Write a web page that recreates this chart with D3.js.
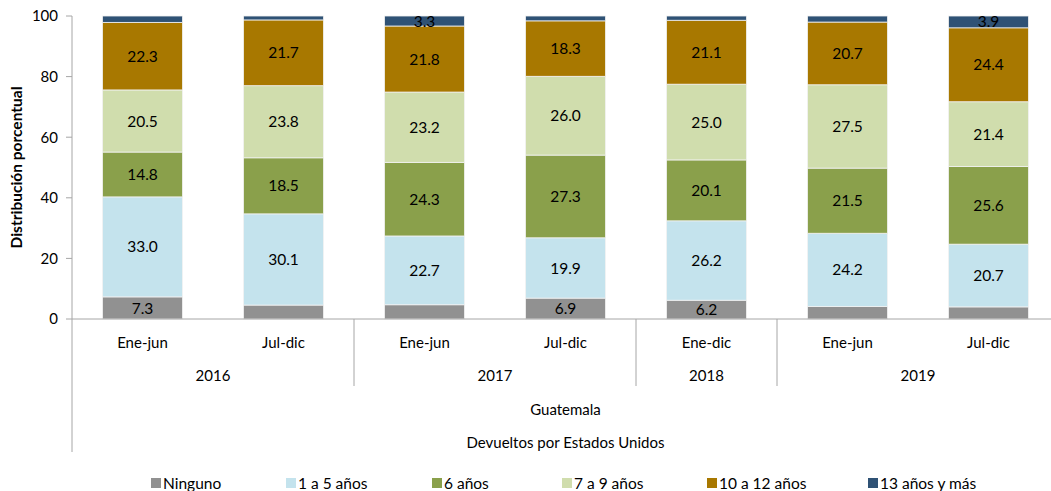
<!DOCTYPE html>
<html>
<head>
<meta charset="utf-8">
<script src="https://cdn.jsdelivr.net/npm/d3@7"></script>
<style>
  body { margin: 0; background: #fff; }
  svg text { font-family: Lato, "Open Sans", sans-serif; fill: #000; }
</style>
</head>
<body>
<div id="chartBox"></div>
<script>
// categories
var periods = ['Ene-jun', 'Jul-dic', 'Ene-jun', 'Jul-dic', 'Ene-dic', 'Ene-jun', 'Jul-dic'];
var years = ['2016', '2016', '2017', '2017', '2018', '2019', '2019'];
var country = 'Guatemala';
var source = 'Devueltos por Estados Unidos';

// series
var seriesNames = ['Ninguno', '1 a 5 años', '6 años', '7 a 9 años', '10 a 12 años', '13 años y más'];
var ninguno   = [7.3, 4.6, 4.7, 6.9, 6.2, 4.1, 4.0];
var anos1a5   = [33.0, 30.1, 22.7, 19.9, 26.2, 24.2, 20.7];
var anos6     = [14.8, 18.5, 24.3, 27.3, 20.1, 21.5, 25.6];
var anos7a9   = [20.5, 23.8, 23.2, 26.0, 25.0, 27.5, 21.4];
var anos10a12 = [22.3, 21.7, 21.8, 18.3, 21.1, 20.7, 24.4];
var anos13    = [2.1, 1.3, 3.3, 1.6, 1.4, 2.0, 3.9];
// labels the original leaves out (series index, bar index)
var hiddenLabels = ['0:1', '0:2', '0:5', '0:6', '5:0', '5:1', '5:3', '5:4', '5:5'];

var yTicks = [0, 20, 40, 60, 80, 100];
var colors = ['#919191', '#c4e3ed', '#8aa04b', '#d0ddad', '#a87800', '#2f5275'];

var width = 1051, height = 491;
var plotLeft = 72, plotRight = 1059, plotTop = 16, plotBottom = 319;

var allSeries = [ninguno, anos1a5, anos6, anos7a9, anos10a12, anos13];
var rows = periods.map(function(p, i) {
	var r = { i: i };
	seriesNames.forEach(function(s, j) { r[s] = allSeries[j][i]; });
	return r;
});

var stacked = d3.stack().keys(seriesNames)(rows);

var x = d3.scaleBand()
	.domain(d3.range(periods.length))
	.range([plotLeft, plotRight])
	.paddingInner(0.433)
	.paddingOuter(0.2165);

var y = d3.scaleLinear().domain([0, 100]).range([plotBottom, plotTop]);

var svg = d3.select('#chartBox').append('svg')
	.attr('width', width)
	.attr('height', height);

// bars
var layers = svg.append('g').selectAll('g')
	.data(stacked)
	.enter()
	.append('g')
	.attr('fill', function(d, i) { return colors[i]; });

layers.selectAll('rect')
	.data(function(d) { return d; })
	.enter()
	.append('rect')
	.attr('x', function(d, i) { return x(i); })
	.attr('width', x.bandwidth())
	.attr('y', function(d) { return y(d[1]); })
	.attr('height', function(d) { return y(d[0]) - y(d[1]); })
	.attr('stroke', '#f2f2f2')
	.attr('stroke-width', 0.8);

// data labels
layers.each(function(layer, si) {
	d3.select(this).selectAll('text')
		.data(layer.filter(function(d, i) { return hiddenLabels.indexOf(si + ':' + i) < 0; }))
		.enter()
		.append('text')
		.attr('x', function(d) { return x(d.data.i) + x.bandwidth() / 2; })
		.attr('y', function(d) { return (y(d[0]) + y(d[1])) / 2; })
		.attr('dy', '0.36em')
		.attr('text-anchor', 'middle')
		.style('font-size', '15.5px')
		.text(function(d) { return d3.format('.1f')(d[1] - d[0]); });
});

// y axis
var axisColor = '#a6a6a6';
svg.append('line')
	.attr('x1', plotLeft).attr('x2', plotLeft)
	.attr('y1', plotTop).attr('y2', 452)
	.attr('stroke', axisColor);

svg.append('g').selectAll('line')
	.data(yTicks)
	.enter()
	.append('line')
	.attr('x1', plotLeft - 6).attr('x2', plotLeft)
	.attr('y1', function(d) { return y(d); })
	.attr('y2', function(d) { return y(d); })
	.attr('stroke', axisColor);

svg.append('g').selectAll('text')
	.data(yTicks)
	.enter()
	.append('text')
	.attr('x', plotLeft - 14)
	.attr('y', function(d) { return y(d); })
	.attr('dy', '0.36em')
	.attr('text-anchor', 'end')
	.style('font-size', '15px')
	.text(function(d) { return d; });

svg.append('text')
	.attr('transform', 'translate(22,' + ((plotTop + plotBottom) / 2) + ') rotate(-90)')
	.attr('text-anchor', 'middle')
	.style('font-size', '15.5px')
	.style('font-weight', 'bold')
	.text('Distribución porcentual');

// x axis
svg.append('line')
	.attr('x1', plotLeft).attr('x2', width)
	.attr('y1', plotBottom).attr('y2', plotBottom)
	.attr('stroke', axisColor);

svg.append('g').selectAll('text')
	.data(periods)
	.enter()
	.append('text')
	.attr('x', function(d, i) { return x(i) + x.bandwidth() / 2; })
	.attr('y', 343)
	.attr('dy', '0.36em')
	.attr('text-anchor', 'middle')
	.style('font-size', '15px')
	.text(function(d) { return d; });

// year groups
var yearGroups = d3.groups(d3.range(years.length), function(i) { return years[i]; });
var gap = x.step() - x.bandwidth();

svg.append('g').selectAll('text')
	.data(yearGroups)
	.enter()
	.append('text')
	.attr('x', function(g) {
		var a = g[1][0], b = g[1][g[1].length - 1];
		return (x(a) + x(b) + x.bandwidth()) / 2;
	})
	.attr('y', 376)
	.attr('dy', '0.36em')
	.attr('text-anchor', 'middle')
	.style('font-size', '15px')
	.text(function(g) { return g[0]; });

svg.append('g').selectAll('line')
	.data(yearGroups.slice(1))
	.enter()
	.append('line')
	.attr('x1', function(g) { return x(g[1][0]) - gap / 2; })
	.attr('x2', function(g) { return x(g[1][0]) - gap / 2; })
	.attr('y1', plotBottom).attr('y2', 386)
	.attr('stroke', axisColor);

svg.append('text')
	.attr('x', (plotLeft + plotRight) / 2)
	.attr('y', 410)
	.attr('dy', '0.36em')
	.attr('text-anchor', 'middle')
	.style('font-size', '15px')
	.text(country);

svg.append('text')
	.attr('x', (plotLeft + plotRight) / 2)
	.attr('y', 443)
	.attr('dy', '0.36em')
	.attr('text-anchor', 'middle')
	.style('font-size', '15px')
	.text(source);

// legend
var legendX = [151, 286, 432, 562, 707, 868];
var legend = svg.append('g').selectAll('g')
	.data(seriesNames)
	.enter()
	.append('g')
	.attr('transform', function(d, i) { return 'translate(' + legendX[i] + ',478)'; });

legend.append('rect')
	.attr('width', 10)
	.attr('height', 10)
	.attr('fill', function(d, i) { return colors[i]; });

legend.append('text')
	.attr('x', 12)
	.attr('y', 5)
	.attr('dy', '0.36em')
	.style('font-size', '15.5px')
	.text(function(d) { return d; });
</script>
</body>
</html>
